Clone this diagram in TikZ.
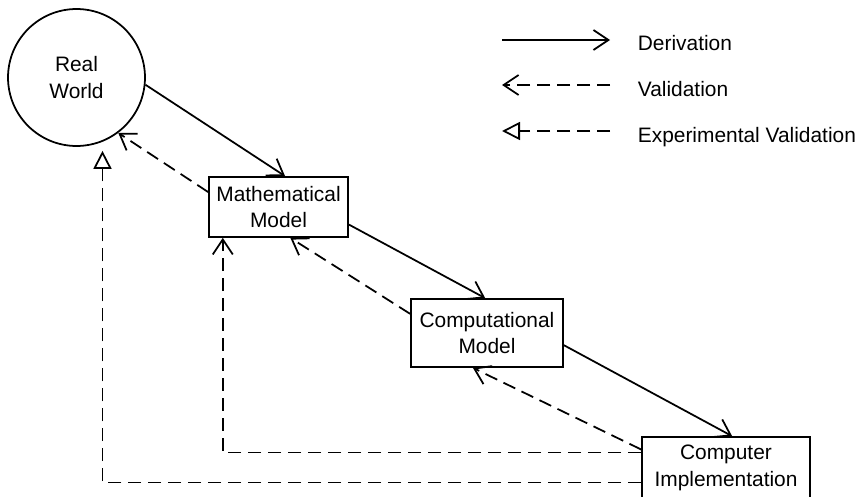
\documentclass[tikz,border=0pt]{standalone}
\usepackage{fontspec}
\setmainfont{Liberation Sans}
\usetikzlibrary{arrows.meta}

\begin{document}
\begin{tikzpicture}[x=0.02cm, y=-0.02cm, line width=1pt,
        font=\fontsize{11.9}{15.3}\selectfont,
        world/.style = {draw, circle, minimum size=2.74cm, inner sep=0pt, align=center},
        model/.style = {draw, rectangle, inner sep=0pt, align=center},
        deriv/.style = {-{Straight Barb[length=0.3cm, width=0.4cm]}},
        valid/.style = {dash pattern=on 0.26cm off 0.14cm, -{Straight Barb[length=0.3cm, width=0.4cm]}},
        expval/.style = {dash pattern=on 0.26cm off 0.14cm, -{Triangle[open, length=0.36cm, width=0.36cm]}}]
    \path[use as bounding box, clip] (0,0) rectangle (866,497);

    \node[world] (rw) at (76.5,77.5) {Real\\World};
    \node[model, minimum width=2.78cm, minimum height=1.2cm] (mm) at (278.5,207) {Mathematical\\Model};
    \node[model, minimum width=3.04cm, minimum height=1.36cm] (cm) at (487,333) {Computational\\Model};
    \node[model, minimum width=3.36cm, minimum height=1.22cm] (ci) at (726,467.5) {Computer\\Implementation};

    % derivation
    \draw[deriv] (rw.-6) -- (mm.78);
    \draw[deriv] (mm.-14) -- (cm.93);
    \draw[deriv] (cm.-9) -- (ci.79);

    % validation
    \draw[valid] (mm.168) -- (rw.-53);
    \draw[valid] (cm.166) -- (mm.-69);
    \draw[valid] (ci.168) -- (cm.-112);
    \draw[valid] (ci.170) -| (mm.209);
    \draw[expval, shorten >=0.18cm] (ci.190.5) -| (rw.-68);

    % legend
    \foreach \i/\y/\s/\xa/\xb/\t in {1/40/deriv/502/610/Derivation,
            2/85/valid/610/502/Validation,
            3/131/expval/610/502/Experimental Validation}{
        \coordinate (from\i) at (\xa,\y);
        \coordinate (to\i) at (\xb,\y);
        \draw[\s] (from\i) -- (to\i);
        \node[anchor=base west, inner sep=0pt] (key\i) at (637,{\y+11}) {\t};
    }
\end{tikzpicture}
\end{document}
